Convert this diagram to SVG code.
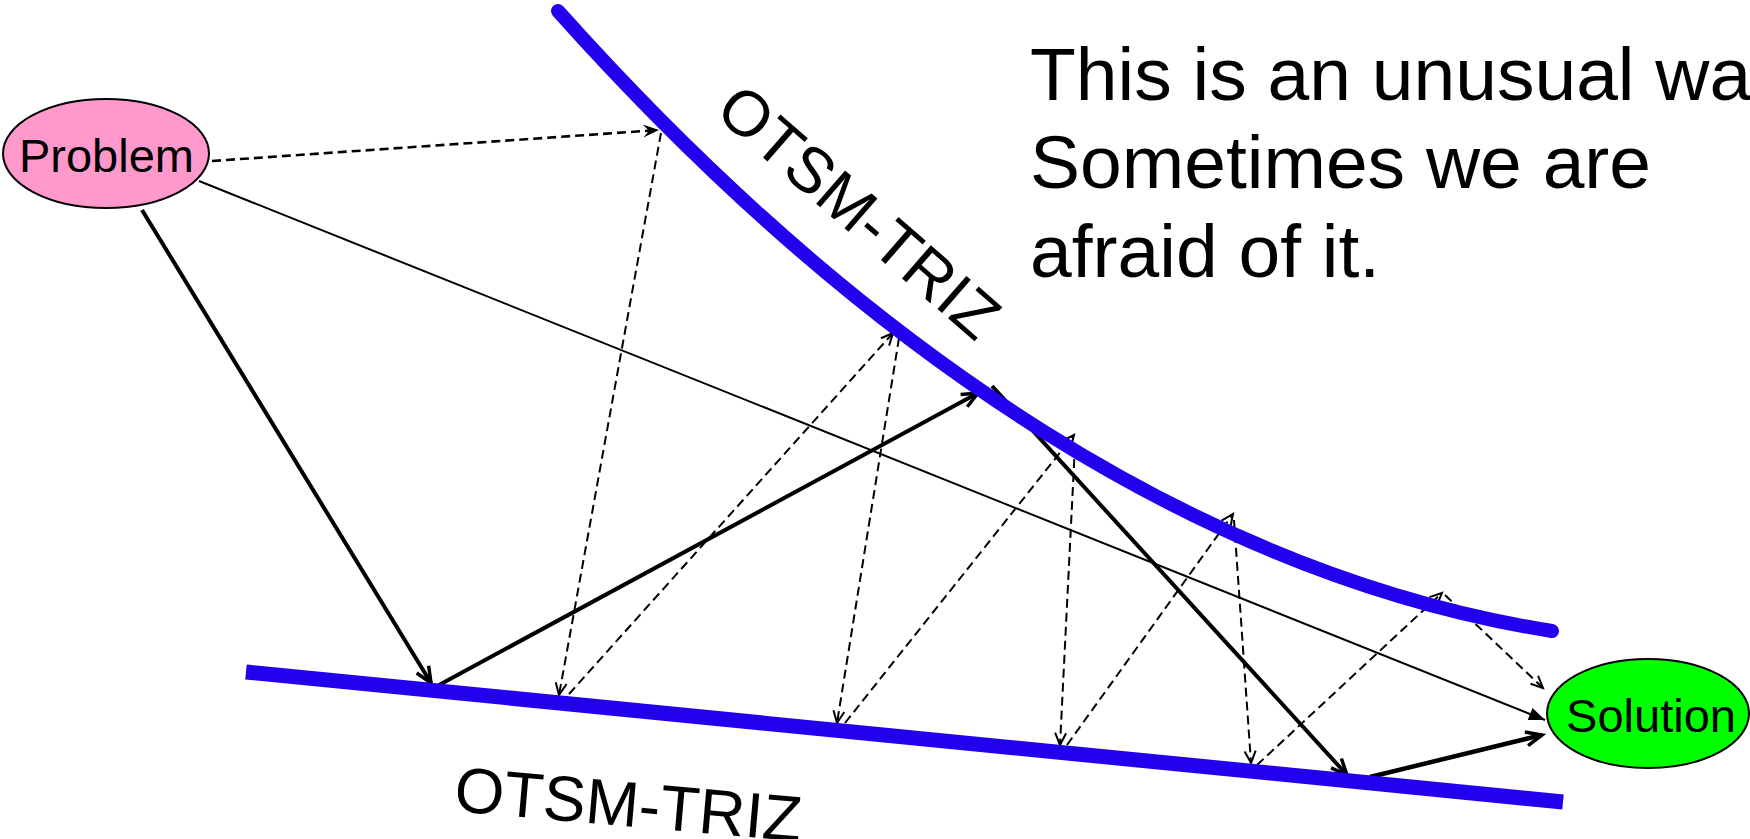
<svg xmlns="http://www.w3.org/2000/svg" width="1750" height="839" viewBox="0 0 1750 839">
<style>
.txt{font-family:"Liberation Sans",Arial,sans-serif;fill:#000}
.blue{fill:none;stroke:#2200ee}
.dash{fill:none;stroke:#000;stroke-width:2;stroke-dasharray:9 5}
.thick{fill:none;stroke:#000;stroke-width:4}
.thin{fill:none;stroke:#000;stroke-width:2}
.node{stroke:#000;stroke-width:2}
</style>
<defs>
<marker id="openThin" markerUnits="userSpaceOnUse" orient="auto" overflow="visible" markerWidth="1" markerHeight="1" refX="0" refY="0">
<path d="M-12,-5.5 L0,0 L-12,5.5" fill="none" stroke="#000" stroke-width="2"/>
</marker>
<marker id="openThick" markerUnits="userSpaceOnUse" orient="auto" overflow="visible" markerWidth="1" markerHeight="1" refX="0" refY="0">
<path d="M-16,-7 L0,0 L-16,7" fill="none" stroke="#000" stroke-width="3.5"/>
</marker>
<marker id="stealth" markerUnits="userSpaceOnUse" orient="auto" overflow="visible" markerWidth="1" markerHeight="1" refX="0" refY="0">
<path d="M0,0 L-16,-6.5 L-10,0 L-16,6.5 Z" fill="#000"/>
</marker>
<marker id="tri" markerUnits="userSpaceOnUse" orient="auto" overflow="visible" markerWidth="1" markerHeight="1" refX="0" refY="0">
<path d="M0,0 L-16,-6.5 L-16,6.5 Z" fill="#000"/>
</marker>
</defs>
<rect width="1750" height="839" fill="#fff"/>
<g id="connectors">
<line class="dash" x1="212" y1="161" x2="659" y2="130" style="stroke-width:2.6" marker-end="url(#stealth)"/>
<line class="dash" x1="661" y1="133" x2="559" y2="695" marker-end="url(#openThin)"/>
<line class="dash" x1="569" y1="694" x2="893" y2="333" marker-end="url(#openThin)"/>
<line class="dash" x1="899" y1="338" x2="837" y2="723" marker-end="url(#openThin)"/>
<line class="dash" x1="845" y1="723" x2="1074" y2="435" marker-end="url(#openThin)"/>
<line class="dash" x1="1075" y1="445" x2="1060" y2="745" marker-end="url(#openThin)"/>
<line class="dash" x1="1067" y1="745" x2="1233" y2="514" marker-end="url(#openThin)"/>
<line class="dash" x1="1234" y1="520" x2="1251" y2="763" marker-end="url(#openThin)"/>
<line class="dash" x1="1257" y1="765" x2="1442" y2="593" marker-end="url(#openThin)"/>
<line class="dash" x1="1445" y1="595" x2="1543" y2="688" marker-end="url(#openThin)"/>
<line class="thin" x1="199" y1="181" x2="1545" y2="720" marker-end="url(#tri)"/>
<line class="thick" x1="142" y1="210" x2="431" y2="683" marker-end="url(#openThick)"/>
<line class="thick" x1="439" y1="685" x2="978" y2="393" marker-end="url(#openThick)"/>
<line class="thick" x1="992" y1="386" x2="1347" y2="775" marker-end="url(#openThick)"/>
<line class="thick" x1="1370" y1="777" x2="1542" y2="735" style="stroke-width:4.5" marker-end="url(#openThick)"/>
</g>
<g id="otsm-upper">
<path class="blue" d="M558,11 C870,360 1210,577 1552,631" stroke-width="14" stroke-linecap="round"/>
<text class="txt" x="713" y="114" font-size="64" transform="rotate(41 713 114)">OTSM-TRIZ</text>
</g>
<g id="otsm-lower">
<line class="blue" x1="246" y1="672" x2="1563" y2="802" stroke-width="15"/>
<text class="txt" x="453" y="811" font-size="64" transform="rotate(5 453 811)">OTSM-TRIZ</text>
</g>
<g id="problem">
<ellipse class="node" cx="106" cy="153.5" rx="103" ry="54.5" fill="#ff99cc"/>
<text class="txt" x="106.5" y="172" font-size="47" text-anchor="middle">Problem</text>
</g>
<g id="solution">
<ellipse class="node" cx="1648" cy="713.5" rx="101" ry="54.5" fill="#00ff00"/>
<text class="txt" x="1651" y="731.5" font-size="47" text-anchor="middle">Solution</text>
</g>
<g id="note">
<text class="txt" font-size="75"><tspan x="1030" y="100">This is an unusual way.</tspan><tspan x="1030" y="188">Sometimes we are</tspan><tspan x="1030" y="277">afraid of it.</tspan></text>
</g>
</svg>
